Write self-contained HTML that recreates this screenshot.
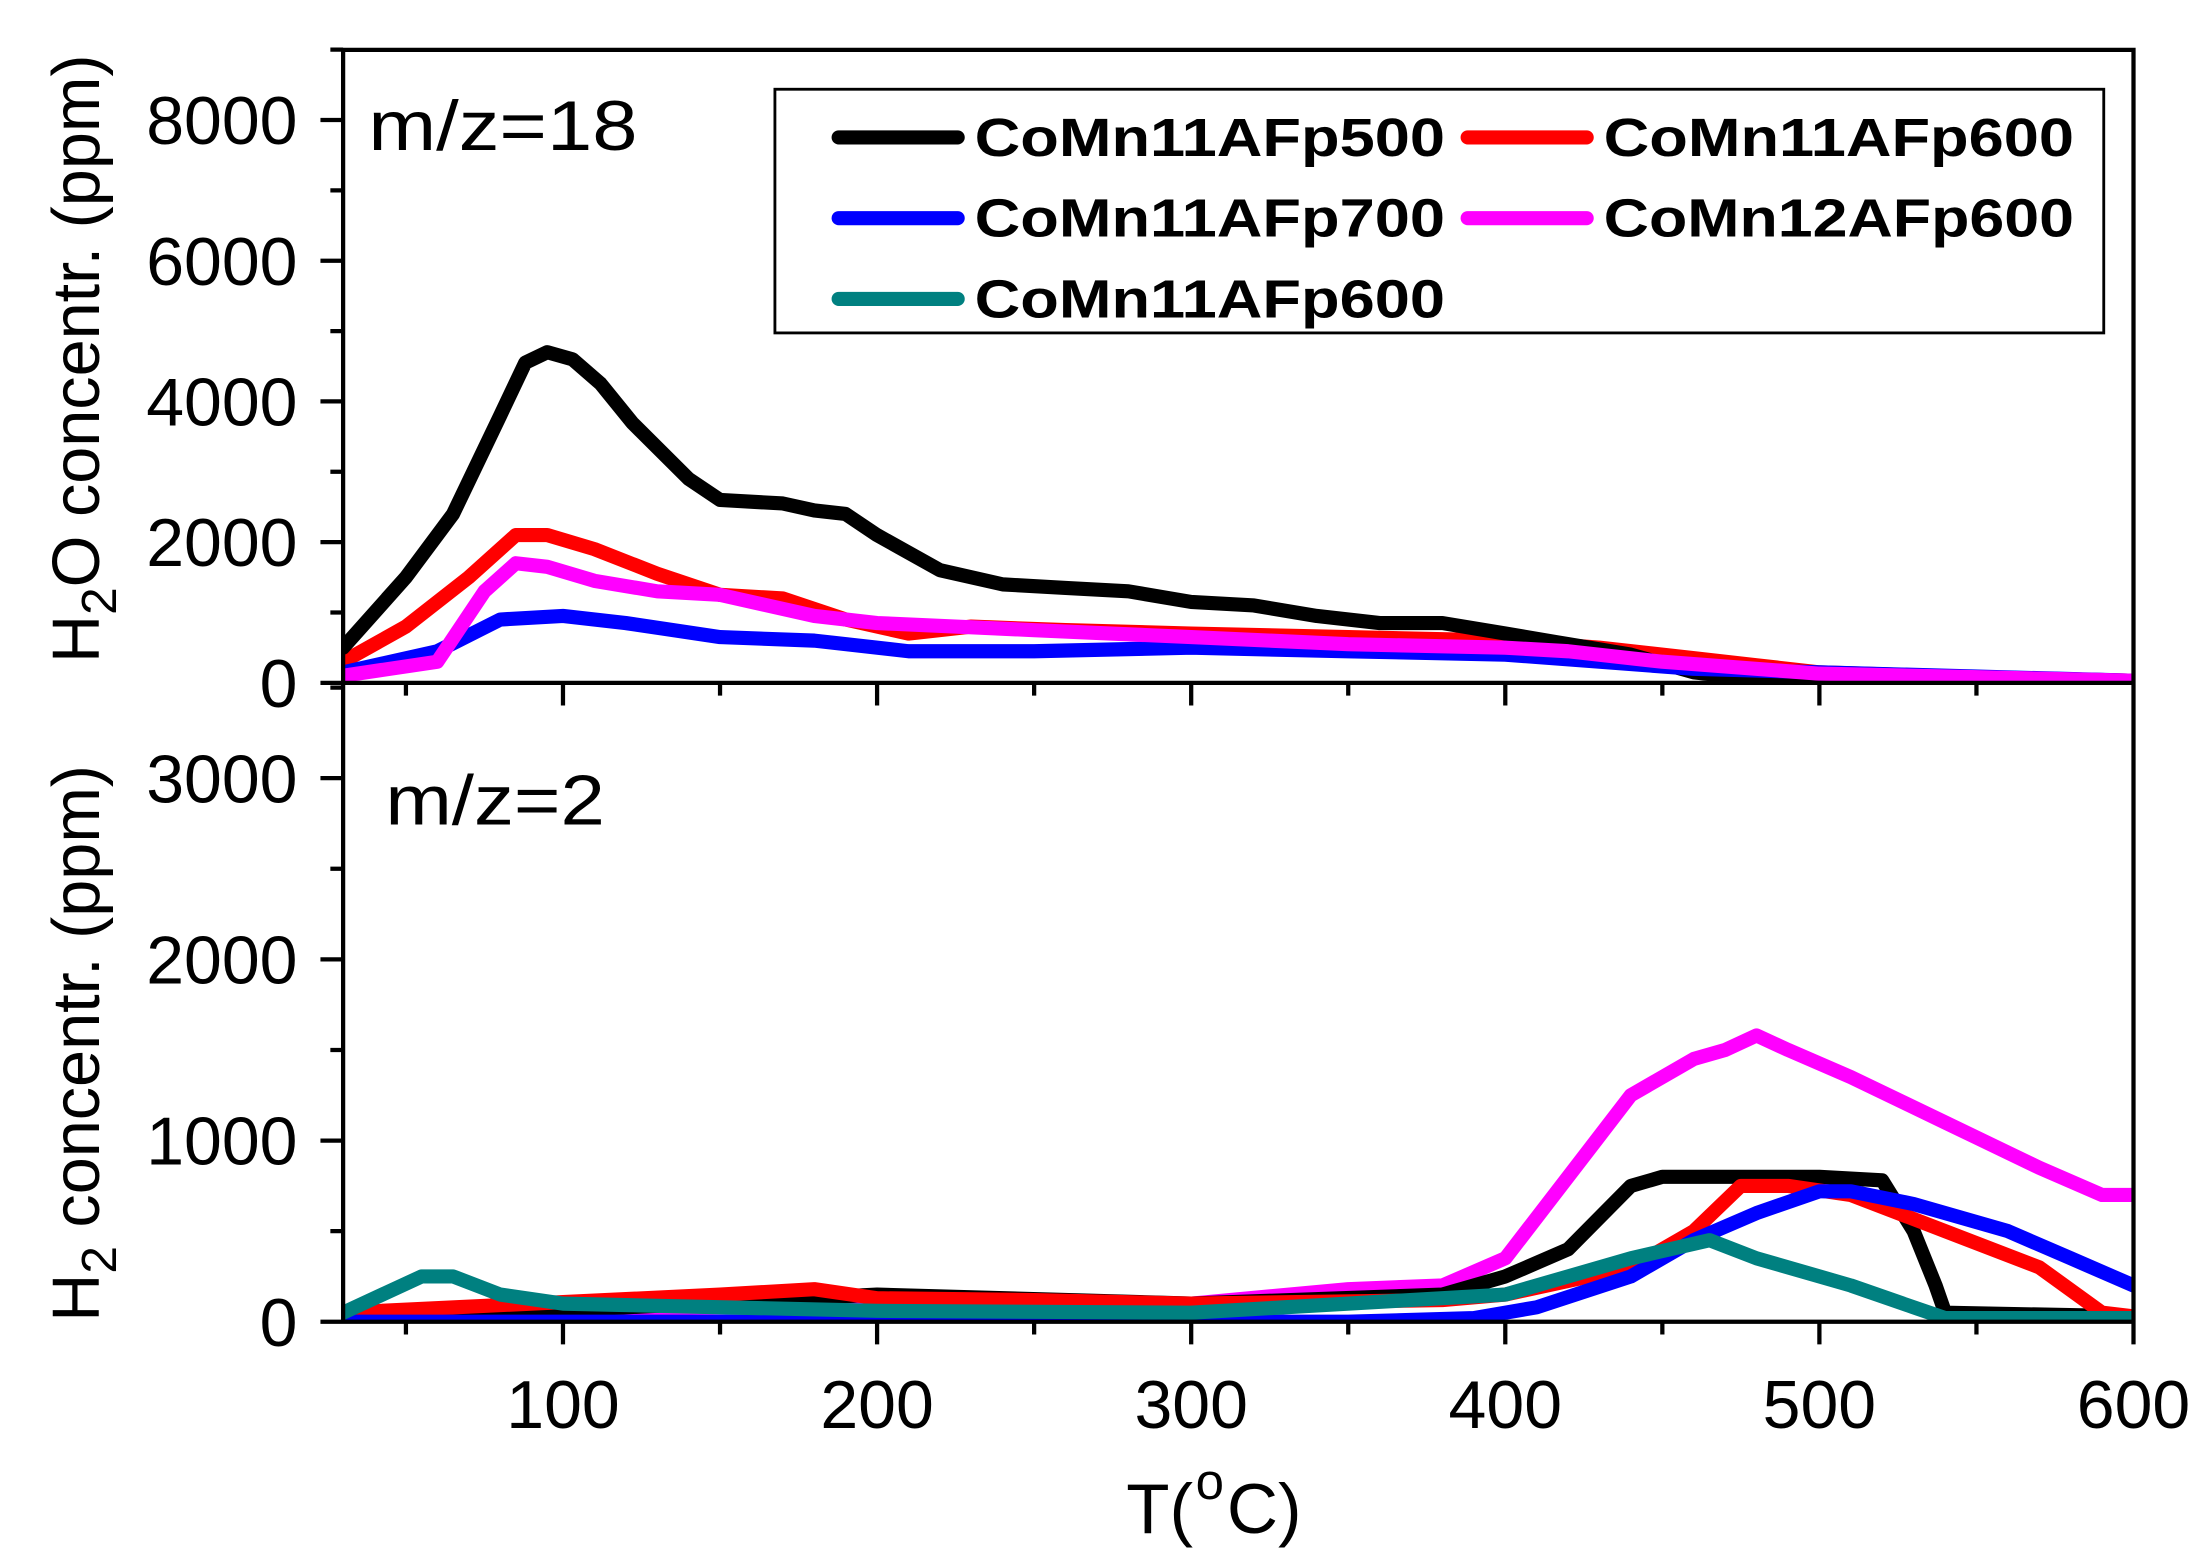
<!DOCTYPE html>
<html><head><meta charset="utf-8"><style>
html,body{margin:0;padding:0;background:#fff;}
svg{display:block;}
text{font-family:"Liberation Sans",Arial,sans-serif;}
</style></head><body>
<svg id="s" width="2210" height="1566" viewBox="0 0 1560 1105.4" preserveAspectRatio="none" xmlns="http://www.w3.org/2000/svg">
<rect width="1560" height="1106" fill="#fff"/>
<g id="curves" fill="none" stroke-width="10" stroke-linejoin="round" stroke-linecap="round"></g>
<g id="axes" stroke="#000" stroke-width="3" fill="none"></g>
<g id="labels" font-size="48" fill="#000"></g>
<text x="260" y="106" font-size="50" textLength="190" lengthAdjust="spacingAndGlyphs">m/z=18</text>
<text x="272" y="582" font-size="50" textLength="155" lengthAdjust="spacingAndGlyphs">m/z=2</text>
<text x="795" y="1082" font-size="50">T(</text>
<text x="844" y="1058" font-size="36">o</text>
<text x="866" y="1082" font-size="50">C)</text>
<text transform="translate(70,468) rotate(-90)" font-size="47">H<tspan font-size="35" dy="12">2</tspan><tspan dy="-12">O concentr. (ppm)</tspan></text>
<text transform="translate(70,933) rotate(-90)" font-size="47">H<tspan font-size="35" dy="12">2</tspan><tspan dy="-12"> concentr. (ppm)</tspan></text>
<rect x="547" y="63" width="938" height="172" fill="#fff" stroke="#000" stroke-width="2"/>
<g stroke-width="10" stroke-linecap="round">
<line x1="592" y1="97" x2="676" y2="97" stroke="#000"/>
<line x1="1036" y1="97" x2="1120" y2="97" stroke="#f00"/>
<line x1="592" y1="154" x2="676" y2="154" stroke="#00f"/>
<line x1="1036" y1="154" x2="1120" y2="154" stroke="#f0f"/>
<line x1="592" y1="211" x2="676" y2="211" stroke="#008080"/>
</g>
<g font-size="38" font-weight="bold">
<text x="688" y="110" textLength="332" lengthAdjust="spacingAndGlyphs">CoMn11AFp500</text>
<text x="1132" y="110" textLength="332" lengthAdjust="spacingAndGlyphs">CoMn11AFp600</text>
<text x="688" y="167" textLength="332" lengthAdjust="spacingAndGlyphs">CoMn11AFp700</text>
<text x="1132" y="167" textLength="332" lengthAdjust="spacingAndGlyphs">CoMn12AFp600</text>
<text x="688" y="224" textLength="332" lengthAdjust="spacingAndGlyphs">CoMn11AFp600</text>
</g>
</svg>
<script>
var XL=242.2,XR=1506,YM=482,YBot=933,YTop=35.2;
var X=function(t){return 397.4+(t-100)*2.2172;};
var YT=function(v){return 482-v*0.04966;}, YB=function(v){return 933-v*0.1279;};
function path(d,Y){return d.map(function(p,i){return (i?'L':'M')+X(p[0]).toFixed(1)+' '+Y(p[1]).toFixed(1);}).join(' ');}
var top_={
'#f00':[[30,300],[50,800],[70,1500],[85,2100],[95,2100],[110,1900],[130,1550],[150,1250],[170,1200],[190,900],[210,700],[230,800],[260,750],[300,700],[350,650],[400,600],[430,500],[460,350],[480,250],[500,150],[550,80],[600,30]],
'#000':[[30,500],[50,1500],[65,2400],[80,3800],[88,4550],[95,4700],[103,4600],[112,4250],[122,3700],[140,2900],[150,2600],[170,2550],[180,2450],[190,2400],[200,2100],[220,1600],[240,1400],[260,1350],[280,1300],[300,1150],[320,1100],[340,950],[360,850],[380,850],[400,700],[420,550],[440,400],[460,150],[480,50],[500,0],[600,0]],
'#00f':[[30,150],[60,450],[80,900],[100,950],[120,850],[150,650],[180,600],[210,450],[250,450],[300,500],[350,450],[400,400],[430,300],[460,200],[500,150],[600,30]],
'#f0f':[[30,100],[60,300],[75,1300],[85,1700],[95,1650],[110,1450],[130,1300],[150,1250],[180,950],[200,850],[250,750],[300,650],[350,550],[400,500],[420,450],[450,300],[500,130],[600,30]]
};
var bot={
'#f0f':[[30,0],[70,30],[100,60],[200,100],[300,100],[350,180],[380,200],[400,350],[420,800],[440,1250],[460,1450],[470,1500],[480,1580],[490,1500],[510,1350],[540,1100],[570,850],[590,700],[600,700]],
'#000':[[30,0],[200,150],[300,100],[380,150],[400,250],[420,400],[440,750],[450,800],[500,800],[520,780],[530,500],[537,200],[540,50],[600,30]],
'#f00':[[30,50],[150,150],[180,180],[200,130],[250,120],[300,100],[380,120],[400,150],[440,300],[460,500],[475,750],[490,750],[510,700],[540,500],[570,300],[590,50],[600,30]],
'#00f':[[30,0],[350,0],[390,20],[410,80],[440,250],[460,450],[480,600],[500,720],[510,720],[530,650],[560,500],[580,350],[600,200]],
'#008080':[[30,50],[55,250],[65,250],[80,150],[100,100],[200,60],[300,50],[400,150],[440,350],[465,450],[480,350],[510,200],[530,80],[540,20],[600,20]]
};
var NS='http://www.w3.org/2000/svg',g=document.getElementById('curves');
function add(obj,Y,clip){for(var c in obj){var p=document.createElementNS(NS,'path');p.setAttribute('d',path(obj[c],Y));p.setAttribute('stroke',c);p.setAttribute('clip-path',clip);g.appendChild(p);}}
var defs=document.createElementNS(NS,'defs');
defs.innerHTML='<clipPath id="ct"><rect x="'+XL+'" y="'+YTop+'" width="'+(XR-XL)+'" height="'+(YM-YTop)+'"/></clipPath><clipPath id="cb"><rect x="'+XL+'" y="'+YM+'" width="'+(XR-XL)+'" height="'+(YBot-YM)+'"/></clipPath>';
document.getElementById('s').insertBefore(defs,g);
add(top_,YT,'url(#ct)');add(bot,YB,'url(#cb)');
var a=document.getElementById('axes'),s='M'+XL+' '+YTop+'H'+XR+'V'+YBot+'H'+XL+'Z M'+XL+' '+YM+'H'+XR;
for(var t=50;t<=600;t+=50){var x=X(t);var len=(t%100==0)?16:9;s+=' M'+x+' '+YM+'v'+len+' M'+x+' '+YBot+'v'+len;}
for(var v=0;v<=9000;v+=1000){var y=YT(v);s+=' M'+XL+' '+y+'h'+(v%2000==0?-16:-9);}
for(var v=500;v<=3500;v+=500){var y=YB(v);s+=' M'+XL+' '+y+'h'+(v%1000==0?-16:-9);}
s+=' M'+XL+' '+YBot+'h-16';
var p=document.createElementNS(NS,'path');p.setAttribute('d',s);a.appendChild(p);
var lab=document.getElementById('labels'),h='';
for(var v=0;v<=8000;v+=2000)h+='<text x="210" y="'+(YT(v)+17)+'" text-anchor="end">'+v+'</text>';
for(var v=0;v<=3000;v+=1000)h+='<text x="210" y="'+(YB(v)+17)+'" text-anchor="end">'+v+'</text>';
for(var t=100;t<=600;t+=100)h+='<text x="'+X(t)+'" y="1008" text-anchor="middle">'+t+'</text>';
lab.innerHTML=h;
</script>
</body></html>
